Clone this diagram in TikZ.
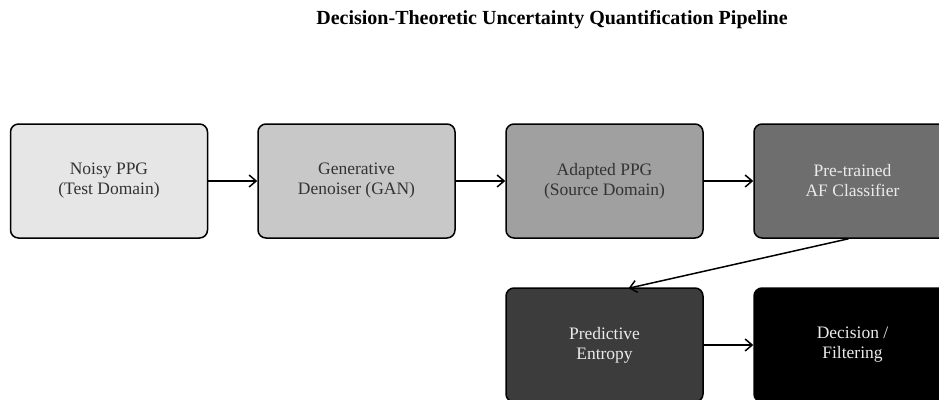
\documentclass[tikz,border=0pt]{standalone}
\usepackage{fontspec}
\setmainfont{Liberation Serif}
\usetikzlibrary{arrows.meta,calc}
\begin{document}
\begin{tikzpicture}[x=1pt,y=-1pt,
  stage/.style={draw=black, line width=1.5pt, rounded corners=8pt,
    minimum width=197pt, minimum height=114pt, inner sep=0pt,
    align=center, font=\fontsize{17.5}{20}\selectfont},
  darktext/.style={text=black!80},
  lighttext/.style={text=white!92!black},
  flow/.style={-{Straight Barb[length=7pt,width=12pt]}, line width=1.5pt}]
\useasboundingbox (0,0) rectangle (939,399);
\fill[white] (0,0) rectangle (939,399);
\node[font=\bfseries\fontsize{20}{24}\selectfont] (title) at (552,20)
  {Decision-Theoretic Uncertainty Quantification Pipeline};

\node[stage, darktext, fill={rgb,255:red,230;green,230;blue,230}] (b1) at (109,181)
  {Noisy PPG\\(Test Domain)};
\node[stage, darktext, fill={rgb,255:red,200;green,200;blue,200}] (b2) at (356.5,181)
  {Generative\\Denoiser (GAN)};
\node[stage, darktext, fill={rgb,255:red,160;green,160;blue,160}] (b3) at (604.5,181)
  {Adapted PPG\\(Source Domain)};
\node[stage, lighttext, fill={rgb,255:red,110;green,110;blue,110}] (b4) at (852.5,181)
  {Pre-trained\\AF Classifier};
\node[stage, lighttext, fill={rgb,255:red,60;green,60;blue,60}] (b5) at (604.5,345)
  {Predictive\\Entropy};
\node[stage, lighttext, fill=black] (b6) at (852.5,345)
  {Decision /\\Filtering};

\draw[flow] (b1) -- (b2);
\draw[flow] (b2) -- (b3);
\draw[flow] (b3) -- (b4);
\coordinate (fromclf) at ($(b4.south)+(-4,0)$);
\coordinate (toent) at ($(b5.north)+(24,1)$);
\draw[flow] (fromclf) -- (toent);
\draw[flow] (b5) -- (b6);
\end{tikzpicture}
\end{document}
